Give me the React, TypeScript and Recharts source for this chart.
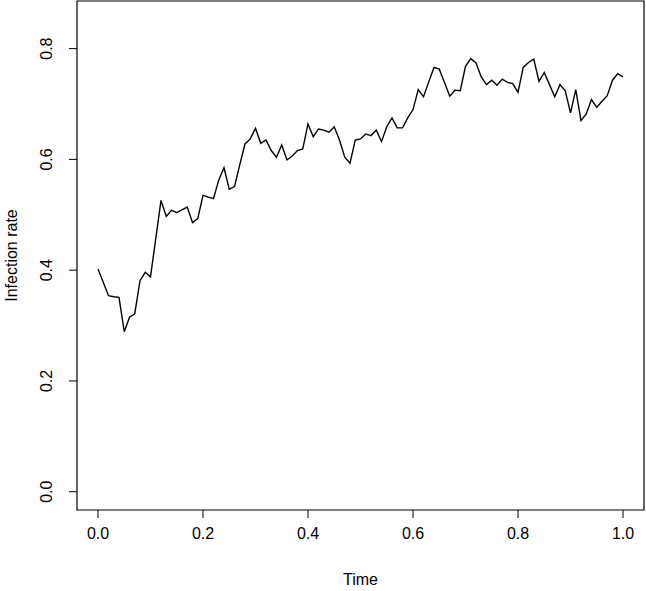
import { LineChart, Line, XAxis, YAxis, ReferenceArea, Label } from "recharts";

const time = [
  0, 0.01, 0.02, 0.03, 0.04, 0.05, 0.06, 0.07, 0.08, 0.09,
  0.1, 0.11, 0.12, 0.13, 0.14, 0.15, 0.16, 0.17, 0.18, 0.19,
  0.2, 0.21, 0.22, 0.23, 0.24, 0.25, 0.26, 0.27, 0.28, 0.29,
  0.3, 0.31, 0.32, 0.33, 0.34, 0.35, 0.36, 0.37, 0.38, 0.39,
  0.4, 0.41, 0.42, 0.43, 0.44, 0.45, 0.46, 0.47, 0.48, 0.49,
  0.5, 0.51, 0.52, 0.53, 0.54, 0.55, 0.56, 0.57, 0.58, 0.59,
  0.6, 0.61, 0.62, 0.63, 0.64, 0.65, 0.66, 0.67, 0.68, 0.69,
  0.7, 0.71, 0.72, 0.73, 0.74, 0.75, 0.76, 0.77, 0.78, 0.79,
  0.8, 0.81, 0.82, 0.83, 0.84, 0.85, 0.86, 0.87, 0.88, 0.89,
  0.9, 0.91, 0.92, 0.93, 0.94, 0.95, 0.96, 0.97, 0.98, 0.99,
  1,
];

const infectionRate = [
  0.402, 0.378, 0.354, 0.352, 0.351, 0.289, 0.315, 0.321, 0.381, 0.396,
  0.388, 0.457, 0.526, 0.497, 0.508, 0.504, 0.509, 0.514, 0.486, 0.493,
  0.535, 0.532, 0.529, 0.563, 0.585, 0.546, 0.551, 0.59, 0.628, 0.637,
  0.656, 0.629, 0.635, 0.616, 0.604, 0.626, 0.599, 0.606, 0.616, 0.619,
  0.664, 0.641, 0.655, 0.653, 0.649, 0.659, 0.635, 0.604, 0.593, 0.635,
  0.637, 0.646, 0.643, 0.653, 0.632, 0.659, 0.675, 0.657, 0.657, 0.675,
  0.69, 0.726, 0.713, 0.74, 0.766, 0.763, 0.739, 0.714, 0.725, 0.724,
  0.768, 0.782, 0.774, 0.749, 0.735, 0.743, 0.734, 0.745, 0.739, 0.737,
  0.721, 0.766, 0.775, 0.781, 0.741, 0.757, 0.735, 0.713, 0.735, 0.724,
  0.684, 0.726, 0.67, 0.682, 0.708, 0.694, 0.705, 0.715, 0.743, 0.755,
  0.749,
];

const xTicks = [0, 0.2, 0.4, 0.6, 0.8, 1];
const yTicks = [0, 0.2, 0.4, 0.6, 0.8];

const data = time.map((t, i) => ({ t, rate: infectionRate[i] }));

const font = "'Liberation Sans', Arial, Helvetica, sans-serif";
const fs = 16;
const xDomain: [number, number] = [-0.04, 1.04];
const yDomain: [number, number] = [-0.033, 0.886];

// R draws y tick labels parallel to the axis
function YTick(props: any) {
  const { y, payload } = props;
  const cx = 47;
  return (
    <text
      x={cx}
      y={y}
      transform={`rotate(-90, ${cx}, ${y})`}
      textAnchor="middle"
      dominantBaseline="central"
      fill="#000"
      fontSize={fs}
      fontFamily={font}
    >
      {payload.value.toFixed(1)}
    </text>
  );
}

function YTitle(props: any) {
  const vb = props.viewBox || {};
  const cx = 11;
  const cy = (vb.y ?? 1) + (vb.height ?? 509) / 2;
  return (
    <text
      x={cx}
      y={cy}
      transform={`rotate(-90, ${cx}, ${cy})`}
      textAnchor="middle"
      dominantBaseline="central"
      fill="#000"
      fontSize={fs}
      fontFamily={font}
    >
      Infection rate
    </text>
  );
}

export default function App() {
  return (
    <div style={{ position: "absolute", left: 0, top: 0, background: "#fff" }}>
      <LineChart
        width={646}
        height={591}
        data={data}
        margin={{ top: 1, right: 2, bottom: 0, left: 0 }}
      >
        <XAxis
          dataKey="t"
          type="number"
          domain={xDomain}
          ticks={xTicks}
          allowDataOverflow
          height={81}
          axisLine={false}
          tickLine={{ stroke: "#000" }}
          tickSize={8}
          tickMargin={10}
          tickFormatter={(v: number) => v.toFixed(1)}
          tick={{ fill: "#000", fontSize: fs, fontFamily: font }}
        >
          <Label
            value="Time"
            position="insideBottom"
            offset={6}
            style={{ fill: "#000", fontSize: fs, fontFamily: font }}
          />
        </XAxis>
        <YAxis
          type="number"
          domain={yDomain}
          ticks={yTicks}
          allowDataOverflow
          width={77}
          axisLine={false}
          tickLine={{ stroke: "#000" }}
          tickSize={8}
          tick={<YTick />}
        >
          <Label content={<YTitle />} />
        </YAxis>
        <ReferenceArea
          x1={xDomain[0]}
          x2={xDomain[1]}
          y1={yDomain[0]}
          y2={yDomain[1]}
          fill="none"
          stroke="#000"
          strokeWidth={1.2}
          ifOverflow="visible"
        />
        <Line
          type="linear"
          dataKey="rate"
          stroke="#000"
          strokeWidth={1.4}
          dot={false}
          isAnimationActive={false}
        />
      </LineChart>
    </div>
  );
}
